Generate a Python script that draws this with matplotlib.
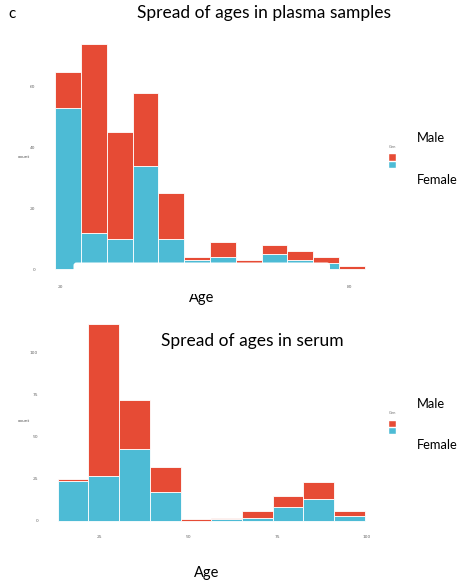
import numpy as np
import matplotlib
matplotlib.use("Agg")
import matplotlib.pyplot as plt
from matplotlib.patches import FancyBboxPatch, Rectangle

# plasma samples: bin edges (age) and counts per bin
plasma_edges = [18.9, 24.26, 29.62, 34.98, 40.34, 45.7, 51.06, 56.42, 61.78, 67.14, 72.5, 77.86, 83.22]
plasma_female = [53, 12, 10, 34, 10, 3, 4, 2, 5, 3, 2, 0]
plasma_male = [12, 62, 35, 24, 15, 1, 5, 1, 3, 3, 2, 1]
plasma_xticks = [20, 80]
plasma_yticks = [0, 20, 40, 60]

# serum samples
serum_edges = [13.3, 21.93, 30.56, 39.19, 47.82, 56.45, 65.08, 73.71, 82.34, 90.97, 99.6]
serum_female = [24, 27, 43, 17, 0, 1, 2, 8, 13, 3]
serum_male = [1, 90, 29, 15, 1, 1, 4, 7, 10, 3]
serum_xticks = [25, 50, 75, 100]
serum_yticks = [0, 25, 50, 75, 100]

RED = "#E64B35"
CYAN = "#4DBBD5"
W, H = 459, 584
FONT = "Lato"


def px(x, y):
    return x / W, 1 - y / H


def axes_from_px(fig, x0, y0, x1, y1):
    return fig.add_axes([x0 / W, 1 - y1 / H, (x1 - x0) / W, (y1 - y0) / H])


def stacked_hist(ax, edges, female, male, xticks, yticks, xlim, ylim):
    edges = np.array(edges)
    left = edges[:-1]
    width = np.diff(edges)
    ax.bar(left, female, width=width, align="edge", color=CYAN,
           edgecolor="white", linewidth=0.6)
    ax.bar(left, male, width=width, bottom=female, align="edge", color=RED,
           edgecolor="white", linewidth=0.6)
    ax.set_xlim(*xlim)
    ax.set_ylim(*ylim)
    ax.set_xticks(xticks)
    ax.set_yticks(yticks)
    ax.tick_params(length=0, labelsize=3.2, labelcolor="#666666", pad=3)
    for s in ax.spines.values():
        s.set_visible(False)
    ax.set_facecolor("white")


fig = plt.figure(figsize=(W / 100, H / 100), dpi=100)

ax1 = axes_from_px(fig, 39.6, 33.1, 380.3, 280.5)
stacked_hist(ax1, plasma_edges, plasma_female, plasma_male,
             plasma_xticks, plasma_yticks, (15.7, 86.4), (-3.7, 77.7))

ax2 = axes_from_px(fig, 42.3, 314.2, 380.2, 530.8)
stacked_hist(ax2, serum_edges, serum_female, serum_male,
             serum_xticks, serum_yticks, (9.0, 103.9), (-5.85, 122.85))

# white patch that covers the bottom of the upper bars in the source image
cover = FancyBboxPatch((73.5, H - 294), 256.5, 31.5,
                       boxstyle="round,pad=0,rounding_size=3",
                       transform=None, facecolor="white", edgecolor="none",
                       zorder=10)
fig.patches.append(cover)

# texts
fig.text(*px(8, 14), "c", fontsize=11, family=FONT, ha="left", va="center")
fig.text(*px(264, 13), "Spread of ages in plasma samples", fontsize=12.5,
         family=FONT, ha="center", va="center")
fig.text(*px(252, 341), "Spread of ages in serum", fontsize=12.5,
         family=FONT, ha="center", va="center")
fig.text(*px(202, 298), "Age", fontsize=10.5, family=FONT, ha="center", va="center")
fig.text(*px(207, 573), "Age", fontsize=10.5, family=FONT, ha="center", va="center")
fig.text(*px(24, 157), "count", fontsize=3.2, color="#555555", ha="center", va="center")
fig.text(*px(24, 421), "count", fontsize=3.2, color="#555555", ha="center", va="center")

# legends
for gy, my, fy in [(147, 138, 180), (413, 404, 445)]:
    fig.text(*px(389, gy), "Gen", fontsize=2.6, color="#666666", ha="left", va="center")
    fig.patches.append(Rectangle(px(389, gy + 14), 7 / W, 6.5 / H,
                                 transform=fig.transFigure, facecolor=RED,
                                 edgecolor="white", linewidth=0.3))
    fig.patches.append(Rectangle(px(389, gy + 21), 7 / W, 6.5 / H,
                                 transform=fig.transFigure, facecolor=CYAN,
                                 edgecolor="white", linewidth=0.3))
    fig.text(*px(417, my), "Male", fontsize=9.3, family=FONT, ha="left", va="center")
    fig.text(*px(417, fy), "Female", fontsize=9.3, family=FONT, ha="left", va="center")

fig.savefig("out.png", dpi=100, facecolor="white")
